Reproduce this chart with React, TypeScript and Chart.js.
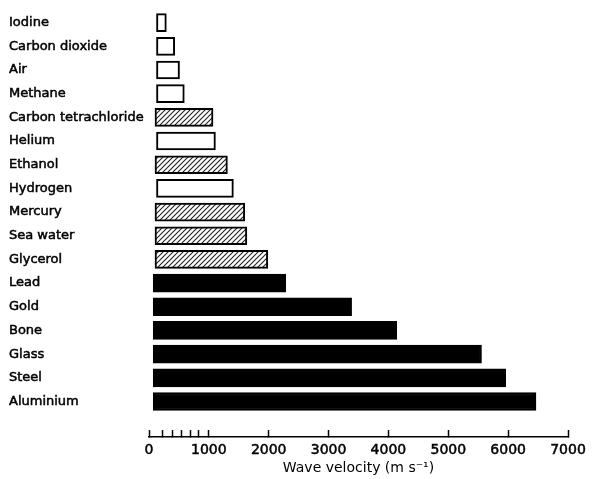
import React, { useEffect, useRef } from "react";
import { Chart, registerables } from "chart.js";

Chart.register(...registerables);

// Materials, top to bottom
const materials = [
  "Iodine",
  "Carbon dioxide",
  "Air",
  "Methane",
  "Carbon tetrachloride",
  "Helium",
  "Ethanol",
  "Hydrogen",
  "Mercury",
  "Sea water",
  "Glycerol",
  "Lead",
  "Gold",
  "Bone",
  "Glass",
  "Steel",
  "Aluminium",
];

// Wave velocity (m s^-1)
const velocities = [
  290, 430, 510, 590, 1070, 1110, 1310, 1410, 1600, 1635, 1985, 2285, 3385,
  4140, 5555, 5960, 6465,
];

// State of each material: gas, liquid, solid
const states = [
  "gas", "gas", "gas", "gas", "liquid", "gas", "liquid", "gas", "liquid",
  "liquid", "liquid", "solid", "solid", "solid", "solid", "solid", "solid",
];

// Where the drawn bars begin on the axis (m s^-1)
const barStartByState: Record<string, number> = { gas: 125, liquid: 100, solid: 70 };

// X axis ticks
const majorTicks = [0, 1000, 2000, 3000, 4000, 5000, 6000, 7000];
const minorTicks = [230, 400, 550, 700, 830];

function makeHatch(): CanvasPattern | string {
  const c = document.createElement("canvas");
  c.width = 5;
  c.height = 5;
  const g = c.getContext("2d");
  if (!g) return "#ccc";
  g.fillStyle = "#fff";
  g.fillRect(0, 0, 5, 5);
  g.strokeStyle = "#222";
  g.lineWidth = 1.1;
  g.beginPath();
  g.moveTo(-1, 6);
  g.lineTo(6, -1);
  g.moveTo(-1, 1);
  g.lineTo(1, -1);
  g.moveTo(4, 6);
  g.lineTo(6, 4);
  g.stroke();
  const p = g.createPattern(c, "repeat");
  return p || "#ccc";
}

export default function App() {
  const canvasRef = useRef<HTMLCanvasElement | null>(null);

  useEffect(() => {
    const canvas = canvasRef.current;
    if (!canvas) return;
    const hatch = makeHatch();
    const data = materials.map((_, i) => ({
      x: [barStartByState[states[i]], velocities[i]],
      y: i,
    }));
    const fontFamily = "'DejaVu Sans', sans-serif";

    const chart = new Chart(canvas, {
      type: "bar",
      data: {
        datasets: [
          {
            data: data as any,
            backgroundColor: (ctx: any) => {
              const s = states[ctx.dataIndex];
              if (s === "solid") return "#000";
              if (s === "liquid") return hatch as any;
              return "#fff";
            },
            borderColor: "#000",
            borderWidth: 2,
            borderSkipped: false,
            barThickness: 18,
            grouped: false,
          },
        ],
      },
      options: {
        indexAxis: "y",
        animation: false,
        responsive: true,
        maintainAspectRatio: false,
        layout: { padding: { left: 9, top: 7, right: 24, bottom: 0 } },
        plugins: {
          legend: { display: false },
          tooltip: { enabled: false },
        },
        scales: {
          y: {
            type: "linear",
            reverse: true,
            offset: false,
            min: -0.5,
            max: 17.5,
            grid: { display: false, offset: false },
            border: { display: false },
            afterBuildTicks: (scale: any) => {
              scale.ticks = materials.map((_, i) => ({ value: i }));
            },
            afterFit: (scale: any) => {
              scale.width = 140;
            },
            ticks: {
              autoSkip: false,
              crossAlign: "far",
              color: "#000",
              textStrokeColor: "#000",
              textStrokeWidth: 0.5,
              font: { family: fontFamily, size: 13 },
              callback: (v: any) => materials[v as number] ?? "",
            },
          },
          x: {
            type: "linear",
            min: 0,
            max: 7000,
            afterBuildTicks: (scale: any) => {
              scale.ticks = [...majorTicks, ...minorTicks]
                .sort((a, b) => a - b)
                .map((v) => ({ value: v }));
            },
            afterFit: (scale: any) => {
              scale.height = 42;
              scale.paddingLeft = 0;
              scale.paddingRight = 0;
            },
            grid: {
              drawOnChartArea: false,
              drawTicks: true,
              tickLength: -7,
              tickColor: "#000",
              tickWidth: 1.5,
            },
            border: { display: true, color: "#000", width: 1.5 },
            ticks: {
              autoSkip: false,
              maxRotation: 0,
              padding: 12,
              color: "#000",
              textStrokeColor: "#000",
              textStrokeWidth: 0.5,
              font: { family: fontFamily, size: 14 },
              callback: (v: any) =>
                majorTicks.includes(v as number) ? String(v) : "",
            },
            title: {
              display: true,
              text: "Wave velocity (m s⁻¹)",
              color: "#000",
              font: { family: fontFamily, size: 14 },
              padding: { top: 2, bottom: 2 },
            },
          },
        },
      },
    });
    return () => chart.destroy();
  }, []);

  return (
    <div
      style={{
        position: "absolute",
        left: 0,
        top: 0,
        width: 592,
        height: 479,
        background: "#fff",
      }}
    >
      <canvas ref={canvasRef} />
    </div>
  );
}
